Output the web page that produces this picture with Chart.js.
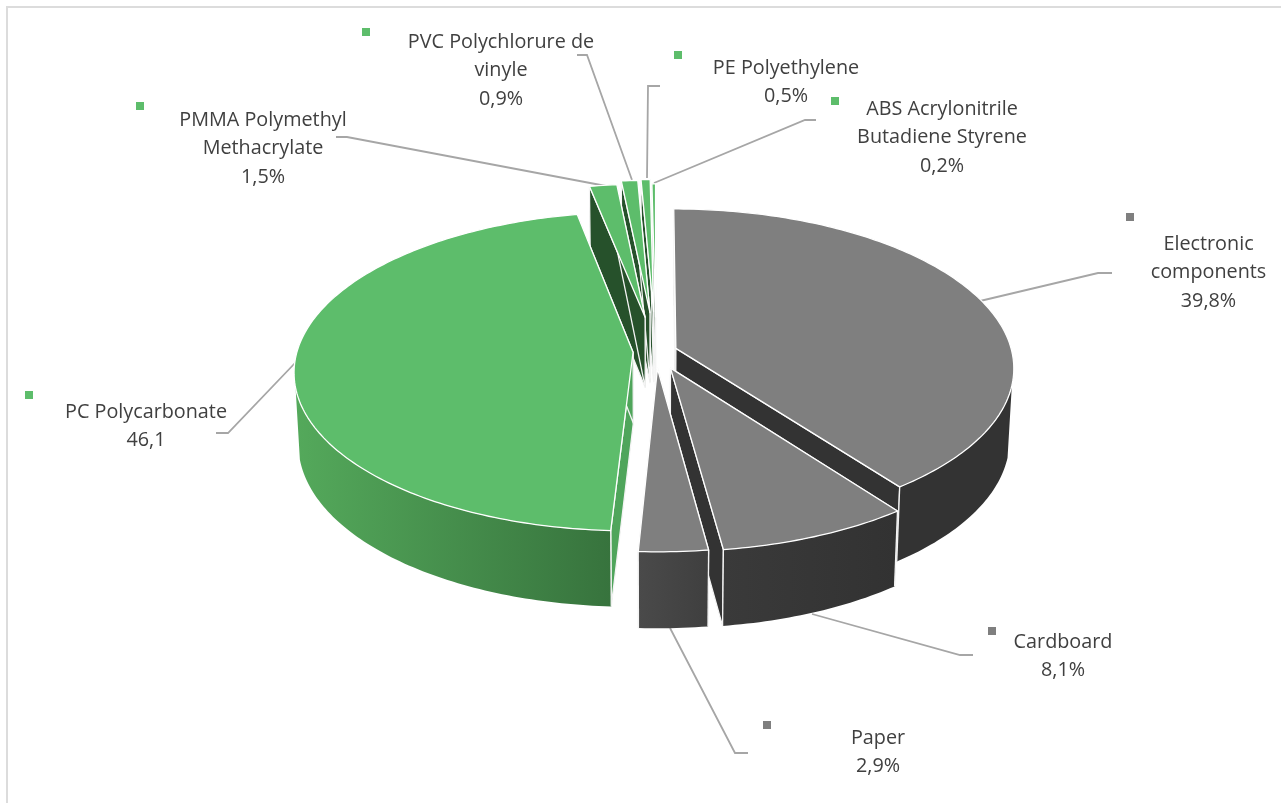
<!DOCTYPE html>
<html><head><meta charset="utf-8">
<style>html,body{margin:0;padding:0;background:#fff}#w{width:1281px;height:803px;position:relative}</style>
<script src="https://cdn.jsdelivr.net/npm/chart.js@4"></script>
</head><body><div id="w"><canvas id="c" width="1281" height="803"></canvas></div>
<script>
const categories=["Electronic components","Cardboard","Paper","PC Polycarbonate","PMMA Polymethyl Methacrylate","PVC Polychlorure de vinyle","PE Polyethylene","ABS Acrylonitrile Butadiene Styrene"];
const values=[39.8,8.1,2.9,46.1,1.5,0.9,0.5,0.2];
const valueLabels=["39,8%","8,1%","2,9%","46,1","1,5%","0,9%","0,5%","0,2%"];
const labelLines=[["Electronic","components"],["Cardboard"],["Paper"],["PC Polycarbonate"],["PMMA Polymethyl","Methacrylate"],["PVC Polychlorure de","vinyle"],["PE Polyethylene"],["ABS Acrylonitrile","Butadiene Styrene"]];
const explode=[21,38,36,23,76,86,88,76];
const topColors=["#7f7f7f","#7f7f7f","#7f7f7f","#5dbd6b","#5dbd6b","#5dbd6b","#5dbd6b","#5dbd6b"];
const cutColors=["#333333","#333333","#333333","#4fa55b","#26512b","#26512b","#26512b","#26512b"];
const wallStops=[["#333333","#333333"],["#3a3a3a","#323232"],["#4a4a4a","#3f3f3f"],["#54a95b","#37733d"],["#26512b","#26512b"],["#26512b","#26512b"],["#26512b","#26512b"],["#26512b","#26512b"]];
const paintOrder=[7,6,5,4,3,0,1,2];
// label layout: centre x, first line centre y, key x, key y, leader polyline
const labelX=[1208.5,1063,878,146,263,501,786,942];
const labelY=[244.5,642.5,738.5,412.5,120.5,42.5,68.5,109.5];
const keyX=[1130,992,767,29,140,366,678,835];
const keyY=[217,631,725,395,106,32,55,101];
const leaders=[[[980,301],[1098,273],[1112,273]],[[812,614],[960,655],[973,655]],[[670,628],[735,753],[748,753]],[[296,362],[228,433],[216,433]],[[606,186],[347,137],[336,137]],[[632,180],[587,55],[577,55]],[[647,178],[648,86],[660,86]],[[654,183],[805,120],[816,120]]];
const R=336,PERSP=0.12,SQUASH=0.467,DEPTH=71,SHRINK=0.012,LINE=28.3,WALL_FROM=0.22;
const FONT='19.8px "Open Sans"';

function slicePoint(el,off,angle,r,z){
  const mid=(el.startAngle+el.endAngle)/2;
  const X=off*Math.cos(mid)+r*Math.cos(angle), Y=off*Math.sin(mid)+r*Math.sin(angle);
  const s=1/(1-PERSP*Y/R);
  let x=s*X, y=s*SQUASH*Y+z*DEPTH*(1+(s-1)*0.5);
  x*=1-z*SHRINK;
  return [el.x+x,el.y+y];
}
function poly(ctx,pts,fill,stroke){
  ctx.beginPath();pts.forEach((p,i)=>i?ctx.lineTo(p[0],p[1]):ctx.moveTo(p[0],p[1]));ctx.closePath();
  ctx.fillStyle=fill;ctx.fill();
  if(stroke){ctx.strokeStyle=stroke;ctx.lineWidth=1.3;ctx.lineJoin='round';ctx.stroke();}
}
const edge='#f4f4f4';
const pie3d={id:'pie3d',
 beforeDatasetsDraw(chart){
  const ctx=chart.ctx,meta=chart.getDatasetMeta(0);
  // frame
  ctx.save();ctx.strokeStyle='#dcdcdc';ctx.lineWidth=2;ctx.beginPath();ctx.moveTo(7,803);ctx.lineTo(7,7);ctx.lineTo(1281,7);ctx.stroke();
  // leaders
  ctx.strokeStyle='#a6a6a6';ctx.lineWidth=1.8;ctx.lineJoin='miter';
  leaders.forEach(l=>{ctx.beginPath();l.forEach((p,i)=>i?ctx.lineTo(p[0],p[1]):ctx.moveTo(p[0],p[1]));ctx.stroke();});
  // slices
  paintOrder.forEach(i=>{
   const el=meta.data[i],off=el.options.offset,a0=el.startAngle,a1=el.endAngle,r=el.outerRadius;
   const n=Math.max(2,Math.ceil((a1-a0)*60));
   const arc=z=>{const o=[];for(let k=0;k<=n;k++)o.push(slicePoint(el,off,a0+(a1-a0)*k/n,r,z));return o;};
   const t=arc(0),b=arc(1),A=slicePoint(el,off,0,0,0),B=slicePoint(el,off,0,0,1);
   poly(ctx,[A,t[0],b[0],B],cutColors[i],edge);
   poly(ctx,[A,t[n],b[n],B],cutColors[i],edge);
   // outer wall: only its front part is visible
   const idx=[];for(let k=0;k<=n;k++){if(Math.sin(a0+(a1-a0)*k/n)>WALL_FROM)idx.push(k);}
   if(idx.length>1){
    const pts=idx.map(k=>t[k]).concat(idx.slice().reverse().map(k=>b[k]));
    const xs=pts.map(p=>p[0]),lo=Math.min(...xs),hi=Math.max(...xs);
    const g=ctx.createLinearGradient(hi,0,lo,0);
    const st=wallStops[i];
    g.addColorStop(0,st[1]);g.addColorStop(1,st[0]);
    poly(ctx,pts,g,null);
    // seams: the straight corners where a cut face meets the wall
    ctx.strokeStyle=edge;ctx.lineWidth=1.3;
    [idx[0],idx[idx.length-1]].forEach(k=>{
      if(k===0||k===n){ctx.beginPath();ctx.moveTo(t[k][0],t[k][1]);ctx.lineTo(b[k][0],b[k][1]);ctx.stroke();}
    });
   }
   poly(ctx,[A].concat(t),el.options.backgroundColor,'#ffffff');
  });
  // keys and labels
  ctx.font=FONT;ctx.textAlign='center';ctx.textBaseline='middle';
  categories.forEach((c,i)=>{
   ctx.fillStyle=topColors[i];ctx.fillRect(keyX[i]-4,keyY[i]-4,8,8);
   ctx.fillStyle='#404040';
   labelLines[i].concat([valueLabels[i]]).forEach((s,j)=>ctx.fillText(s,labelX[i],labelY[i]+j*LINE));
  });
  ctx.restore();
  return false;
 }};
new Chart(document.getElementById('c'),{type:'pie',
 data:{labels:categories,datasets:[{data:values,backgroundColor:topColors,offset:explode,borderWidth:0}]},
 options:{responsive:false,animation:false,radius:R,rotation:0,
  layout:{padding:{left:31,right:0,top:0,bottom:100}},
  plugins:{legend:{display:false},tooltip:{enabled:false}}},
 plugins:[pie3d]});
</script></body></html>
